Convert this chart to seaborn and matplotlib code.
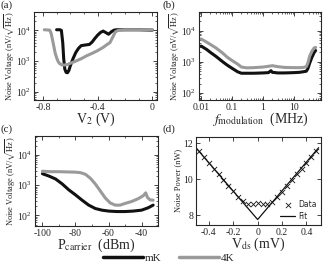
import seaborn as sns
import pandas as pd
import matplotlib.pyplot as plt
import numpy as np
from matplotlib.lines import Line2D
from matplotlib.ticker import MultipleLocator, FixedLocator, NullFormatter

# (a) noise voltage vs gate voltage V2
a_v_mk = [-0.70, -0.685, -0.675, -0.665, -0.655, -0.648, -0.64, -0.63, -0.62, -0.61, -0.60, -0.58,
          -0.56, -0.54, -0.52, -0.50, -0.48, -0.46, -0.44, -0.42, -0.40, -0.38, -0.36, -0.34,
          -0.32, -0.30, -0.28, -0.26, -0.2, -0.1, 0.0]
a_n_mk = [1.05e4, 1.05e4, 1.05e4, 1.0e4, 4000, 1200, 550, 430, 420, 500, 700, 1200,
          1900, 2600, 3200, 3300, 3400, 3500, 4200, 5500, 7000, 8500, 9500, 8500,
          7500, 9000, 1.02e4, 1.05e4, 1.05e4, 1.05e4, 1.02e4]
a_v_4k = [-0.79, -0.75, -0.74, -0.73, -0.72, -0.71, -0.70, -0.69, -0.68, -0.66, -0.64, -0.62,
          -0.60, -0.56, -0.52, -0.48, -0.44, -0.40, -0.36, -0.33, -0.31, -0.29, -0.27, -0.25,
          -0.2, -0.1, 0.0]
a_n_4k = [1.05e4, 1.02e4, 8000, 5000, 3000, 1800, 1300, 1000, 850, 750, 750, 780,
          850, 1000, 1200, 1500, 1800, 2200, 2800, 3500, 4000, 6000, 9000, 1.0e4,
          1.05e4, 1.05e4, 1.05e4]

# (b) noise voltage vs modulation frequency
b_f_mk = [0.01, 0.015, 0.02, 0.03, 0.05, 0.07, 0.1, 0.15, 0.2, 0.3, 0.5, 1, 1.5, 1.8, 2,
          2.5, 3, 5, 10, 15, 20, 25, 28, 32, 38, 45, 50]
b_n_mk = [3200, 2500, 2000, 1500, 1000, 780, 620, 480, 430, 430, 430, 440, 450, 520, 460,
          450, 440, 440, 450, 460, 480, 500, 600, 900, 1400, 2000, 2300]
b_f_4k = [0.01, 0.015, 0.02, 0.03, 0.05, 0.07, 0.1, 0.15, 0.2, 0.3, 0.5, 1, 1.5, 2, 3,
          5, 10, 15, 20, 25, 28, 32, 38, 45, 50]
b_n_4k = [5400, 4300, 3600, 2800, 1900, 1400, 1100, 850, 680, 640, 650, 680, 720, 750, 700,
          660, 650, 650, 660, 700, 900, 1500, 2200, 2800, 2900]

# (c) noise voltage vs carrier power
c_p_mk = [-100, -96, -92, -88, -84, -80, -76, -72, -68, -64, -60, -55, -50, -45, -40, -36, -33]
c_n_mk = [2400, 2000, 1600, 1100, 700, 480, 320, 220, 170, 150, 140, 135, 135, 140, 150, 180, 220]
c_p_4k = [-100, -95, -90, -85, -80, -77, -74, -71, -68, -65, -62, -59, -56, -53, -50, -46,
          -42, -39, -37.5, -36.5, -35, -33]
c_n_4k = [2900, 2800, 2800, 2750, 2700, 2600, 2300, 1700, 1100, 650, 380, 260, 220, 220, 250, 290,
          360, 450, 560, 400, 330, 320]

# (d) noise power vs Vds
d_v = [-0.48, -0.44, -0.40, -0.36, -0.32, -0.28, -0.24, -0.20, -0.16, -0.12, -0.08, -0.04, 0.0,
       0.04, 0.08, 0.12, 0.16, 0.20, 0.24, 0.28, 0.32, 0.36, 0.40, 0.44, 0.48]
d_p = [11.55, 11.22, 10.9, 10.58, 10.27, 9.95, 9.63, 9.33, 9.02, 8.78, 8.62, 8.62, 8.68,
       8.6, 8.62, 8.75, 9.0, 9.3, 9.62, 9.95, 10.27, 10.58, 10.9, 11.22, 11.55]
fit_v = [-0.5, 0.0, 0.5]
fit_p = [11.7, 7.75, 11.75]

black = '#111111'
gray = '#9a9a9a'

sns.set_style('ticks')
plt.rcParams['font.family'] = ['Liberation Serif', 'DejaVu Serif']
plt.rcParams['mathtext.fontset'] = 'stix'

fig = plt.figure(figsize=(3.24, 2.70), dpi=100)
ax_a = fig.add_axes([0.105, 0.630, 0.380, 0.326])
ax_b = fig.add_axes([0.614, 0.630, 0.377, 0.326])
ax_c = fig.add_axes([0.108, 0.163, 0.380, 0.333])
ax_d = fig.add_axes([0.605, 0.167, 0.386, 0.326])

ylab = r'Noise Voltage (nV/$\sqrt{\mathrm{Hz}}$)'

sns.lineplot(x=a_v_mk, y=a_n_mk, ax=ax_a, color=black, lw=2.2)
sns.lineplot(x=a_v_4k, y=a_n_4k, ax=ax_a, color=gray, lw=2.2)
ax_a.set_yscale('log')
ax_a.set_xlim(-0.865, 0.035)
ax_a.set_ylim(55, 4e4)
ax_a.xaxis.set_major_locator(FixedLocator([-0.8, -0.4, 0.0]))
ax_a.xaxis.set_minor_locator(MultipleLocator(0.1))
ax_a.set_xticklabels(['-0.8', '-0.4', '0'])
ax_a.set_xlabel(r'V$_2$ (V)', fontsize=10, labelpad=-1)

sns.lineplot(x=b_f_mk, y=b_n_mk, ax=ax_b, color=black, lw=2.2)
sns.lineplot(x=b_f_4k, y=b_n_4k, ax=ax_b, color=gray, lw=2.2)
ax_b.set_xscale('log')
ax_b.set_yscale('log')
ax_b.set_xlim(0.0085, 75)
ax_b.set_ylim(60, 4e4)
ax_b.xaxis.set_major_locator(FixedLocator([0.01, 0.1, 1, 10]))
ax_b.set_xticklabels(['0.01', '0.1', '1', '10'])
ax_b.set_xlabel(r'$f_{\mathrm{modulation}}$  (MHz)', fontsize=10, labelpad=-1)

sns.lineplot(x=c_p_mk, y=c_n_mk, ax=ax_c, color=black, lw=2.2)
sns.lineplot(x=c_p_4k, y=c_n_4k, ax=ax_c, color=gray, lw=2.2)
ax_c.set_yscale('log')
ax_c.set_xlim(-104.5, -30)
ax_c.set_ylim(45, 4.2e4)
ax_c.xaxis.set_major_locator(FixedLocator([-100, -80, -60, -40]))
ax_c.xaxis.set_minor_locator(MultipleLocator(10))
ax_c.set_xticklabels(['-100', '-80', '-60', '-40'])
ax_c.set_xlabel(r'P$_{\mathrm{carrier}}$  (dBm)', fontsize=10, labelpad=-1)

for ax in (ax_a, ax_b, ax_c):
    ax.set_ylabel(ylab, fontsize=6, labelpad=0)
    ax.yaxis.set_minor_formatter(NullFormatter())

sns.lineplot(x=fit_v, y=fit_p, ax=ax_d, color=black, lw=0.9, label='Fit')
sns.scatterplot(x=d_v, y=d_p, ax=ax_d, color=black, marker='x', s=14, linewidth=0.6, label='Data')
ax_d.set_xlim(-0.505, 0.52)
ax_d.set_ylim(7.45, 12.35)
ax_d.xaxis.set_major_locator(FixedLocator([-0.4, -0.2, 0.0, 0.2, 0.4]))
ax_d.set_xticklabels(['-0.4', '-0.2', '0', '0.2', '0.4'])
ax_d.yaxis.set_major_locator(FixedLocator([8, 10, 12]))
ax_d.set_xlabel(r'V$_{\mathrm{ds}}$ (mV)', fontsize=10, labelpad=-1)
ax_d.set_ylabel('Noise Power (nW)', fontsize=6, labelpad=1)
h, l = ax_d.get_legend_handles_labels()
ax_d.legend([h[1], h[0]], [l[1], l[0]], loc='lower right', frameon=False,
            prop={'family': 'DejaVu Sans', 'size': 5.5}, handlelength=2.0,
            borderaxespad=0.15, labelspacing=0.35, handletextpad=0.4)

for ax in (ax_a, ax_b, ax_c, ax_d):
    ax.tick_params(which='both', direction='in', top=True, right=True, labelsize=7, pad=2)
    ax.tick_params(which='major', length=3, width=0.6)
    ax.tick_params(which='minor', length=1.5, width=0.5)
    for s in ax.spines.values():
        s.set_linewidth(0.8)

for txt, x, y in [('(a)', 0.003, 0.998), ('(b)', 0.503, 0.998),
                  ('(c)', 0.003, 0.538), ('(d)', 0.503, 0.538)]:
    fig.text(x, y, txt, fontsize=8, ha='left', va='top')

handles = [Line2D([], [], color=black, lw=2.5), Line2D([], [], color=gray, lw=2.5)]
fig.legend(handles, ['mK', '4K'], loc='center', bbox_to_anchor=(0.52, 0.045), ncol=2,
           frameon=False, fontsize=8, handlelength=3.6, columnspacing=1.6, handletextpad=0.15,
           borderpad=0.1)

fig.savefig('out.png', dpi=100)
